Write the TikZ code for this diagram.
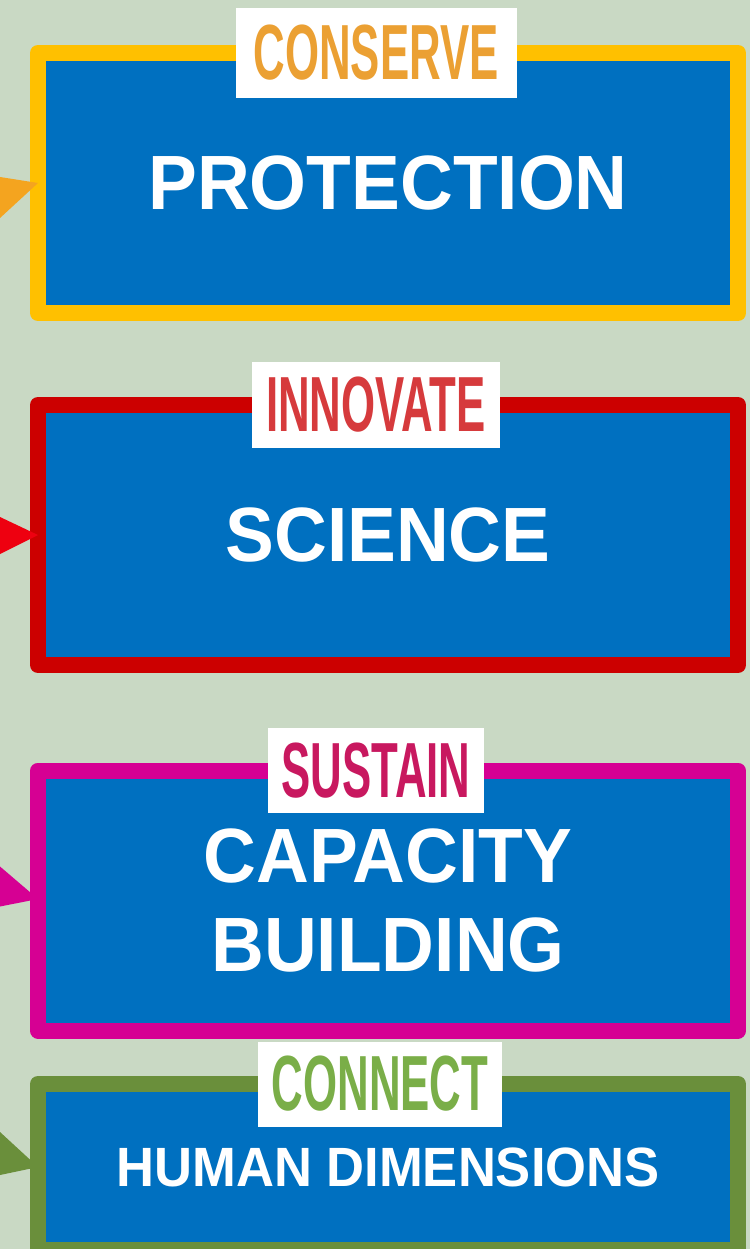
\documentclass[tikz,border=0pt]{standalone}
\usepackage{fontspec}
\setmainfont{Liberation Sans}
\newfontfamily\boxfont[FakeStretch=0.95]{Liberation Sans}
\newfontfamily\tagfont[FakeStretch=0.56]{Liberation Sans}
\usepackage{tikz}
\usepackage{xcolor}
\definecolor{bggreen}{HTML}{C9D9C4}
\definecolor{boxblue}{HTML}{0070C0}
\definecolor{boxyellow}{HTML}{FFC000}
\definecolor{boxred}{HTML}{CC0000}
\definecolor{boxmagenta}{HTML}{D60093}
\definecolor{boxgreen}{HTML}{6A8F3B}
\definecolor{arroworange}{HTML}{F4A41F}
\definecolor{arrowred}{HTML}{EE0010}
\definecolor{tagorange}{HTML}{EBA033}
\definecolor{tagred}{HTML}{D63A3C}
\definecolor{tagmagenta}{HTML}{C8185F}
\definecolor{taggreen}{HTML}{7AAE48}

\begin{document}
\begin{tikzpicture}[
    box/.style={draw, line width=0.32cm, line join=round, fill=boxblue, minimum width=14cm, minimum height=5.2cm, inner sep=0pt, outer sep=0pt, text=white, align=center, font=\boxfont\bfseries\fontsize{43.8}{50.5}\selectfont},
    tag/.style={fill=white, minimum height=1.7cm, inner xsep=0.28cm, inner ysep=0pt, font=\tagfont\bfseries\fontsize{44.5}{44.5}\selectfont}]
            \useasboundingbox (0,0) rectangle (15,-24.98);
            \clip (0,0) rectangle (15,-24.98);
            \fill[bggreen] (0,0) rectangle (15,-24.98);
            \node[box, draw=boxyellow] (prot) at (7.76,-3.66) {PROTECTION};
            \node[box, draw=boxred] (sci) at (7.76,-10.70) {SCIENCE};
            \node[box, draw=boxmagenta] (cap) at (7.76,-18.01) {CAPACITY\\BUILDING};
            \node[box, draw=boxgreen, minimum height=3.32cm, font=\boxfont\bfseries\fontsize{31.5}{36}\selectfont] (hum) at (7.76,-23.34) {HUMAN DIMENSIONS};
            \fill[arroworange] (prot.west) -- ++(-0.76,0.12) -- ++(0,-0.82) -- cycle;
            \fill[arrowred] (sci.west) -- ++(-0.76,0.36) -- ++(0,-0.74) -- cycle;
            \fill[boxmagenta] ([yshift=0.03cm]cap.west) -- ++(-0.76,0.65) -- ++(0,-0.80) -- cycle;
            \fill[boxgreen] (hum.west) -- ++(-0.76,0.70) -- ++(0,-0.86) -- cycle;
            \node[tag, text=tagorange, minimum height=1.8cm, inner xsep=0.36cm] (conserve) at ([xshift=-0.24cm]prot.north) {CONSERVE};
            \node[tag, text=tagred] (innovate) at ([xshift=-0.24cm]sci.north) {INNOVATE};
            \node[tag, text=tagmagenta] (sustain) at ([xshift=-0.24cm]cap.north) {SUSTAIN};
            \node[tag, text=taggreen] (connect) at ([xshift=-0.16cm]hum.north) {CONNECT};
\end{tikzpicture}
\end{document}
